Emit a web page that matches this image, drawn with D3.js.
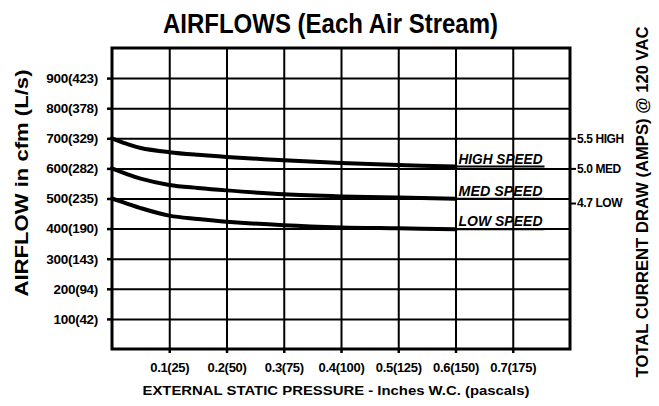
<!DOCTYPE html>
<html>
<head>
	<title>Airflows (each air stream)</title>
	<meta charset="utf-8" />
	<script src="https://d3js.org/d3.v7.min.js"></script>
<style>
	body { margin: 0; background: #fff; }
	svg { display: block; font-family: "Liberation Sans", Arial, sans-serif; }
	.grid path { stroke-width: 0; }
	.axis path { stroke-width: 0; }
	.axis text { fill: #000; font-weight: bold; }
</style>
</head>
<body>
<script>
// datos (cfm frente a presion estatica, in W.C.)
var pressure  = [0, 0.025, 0.05, 0.1, 0.15, 0.2, 0.3, 0.4, 0.5, 0.6];
var highSpeed = [700, 682, 668, 654, 645, 638, 627, 618, 611, 606];
var medSpeed  = [600, 582, 566, 545, 535, 527, 514, 507, 503, 499];
var lowSpeed  = [500, 484, 468, 443, 432, 423, 411, 404, 401, 398];
var speedNames = ["HIGH SPEED", "MED SPEED", "LOW SPEED"];

// etiquetas de los ejes
var yTicks = [100, 200, 300, 400, 500, 600, 700, 800, 900];
var yTickLabels = ["100(42)", "200(94)", "300(143)", "400(190)", "500(235)", "600(282)", "700(329)", "800(378)", "900(423)"];
var xTicks = [0.1, 0.2, 0.3, 0.4, 0.5, 0.6, 0.7];
var xTickLabels = ["0.1(25)", "0.2(50)", "0.3(75)", "0.4(100)", "0.5(125)", "0.6(150)", "0.7(175)"];
// consumo (amperios) en el eje derecho, situado a la altura de cada curva
var ampsAt = [700, 600, 485];
var ampsLabels = ["5.5 HIGH", "5.0 MED", "4.7 LOW"];

var svg = d3.select("body")
	.append("svg")
	.attr("width", 659)
	.attr("height", 406);

var margin = {top: 48, right: 89, bottom: 57, left: 112},
	width = +svg.attr("width") - margin.left - margin.right,
	height = +svg.attr("height") - margin.top - margin.bottom,
	g = svg.append("g").attr("transform", "translate(" + margin.left + "," + margin.top + ")");

var x = d3.scaleLinear().domain([0, 0.8]).range([0, width]);
var y = d3.scaleLinear().domain([0, 1000]).range([height, 0]);

// Titulo
svg.append("text")
	.attr("x", 330.5)
	.attr("y", 33)
	.attr("text-anchor", "middle")
	.attr("textLength", 335)
	.attr("lengthAdjust", "spacingAndGlyphs")
	.style("font-size", "27px")
	.style("font-weight", "bold")
	.text("AIRFLOWS (Each Air Stream)");

// lineas de la rejilla
g.append("g")
	.attr("class", "grid")
	.call(d3.axisLeft(y).tickValues(yTicks).tickSize(-width).tickFormat(""))
	.selectAll("line")
	.attr("stroke", "#000")
	.attr("stroke-width", 2);

g.append("g")
	.attr("class", "grid")
	.attr("transform", "translate(0," + height + ")")
	.call(d3.axisBottom(x).tickValues(xTicks).tickSize(-height).tickFormat(""))
	.selectAll("line")
	.attr("stroke", "#000")
	.attr("stroke-width", 2);

// marco
g.append("rect")
	.attr("width", width)
	.attr("height", height)
	.attr("fill", "none")
	.attr("stroke", "#000")
	.attr("stroke-width", 3);

// Eje Y
var yAxis = g.append("g")
	.attr("class", "axis")
	.call(d3.axisLeft(y)
		.tickValues(yTicks)
		.tickSize(5)
		.tickPadding(9)
		.tickFormat(function (d, i) { return yTickLabels[i]; }));
yAxis.selectAll("line").attr("stroke-width", 2.5);
yAxis.selectAll("text")
	.style("font-size", "13.5px")
	.style("letter-spacing", "-0.3px");

// Eje X
var xAxis = g.append("g")
	.attr("class", "axis")
	.attr("transform", "translate(0," + height + ")")
	.call(d3.axisBottom(x)
		.tickValues(xTicks)
		.tickSize(4)
		.tickPadding(10)
		.tickFormat(function (d, i) { return xTickLabels[i]; }));
xAxis.selectAll("line").attr("stroke-width", 2.5);
xAxis.selectAll("text")
	.style("font-size", "13px")
	.style("letter-spacing", "-0.3px");

// Eje derecho (amperios)
var aAxis = g.append("g")
	.attr("class", "axis")
	.attr("transform", "translate(" + width + ",0)")
	.call(d3.axisRight(y)
		.tickValues(ampsAt)
		.tickSize(6)
		.tickPadding(1)
		.tickFormat(function (d, i) { return ampsLabels[i]; }));
aAxis.selectAll("line").attr("stroke-width", 2);
aAxis.selectAll("text")
	.style("font-size", "12px")
	.style("letter-spacing", "-0.4px");

// titulos de los ejes
svg.append("text")
	.attr("transform", "translate(28,183) rotate(-90)")
	.attr("text-anchor", "middle")
	.attr("textLength", 227)
	.attr("lengthAdjust", "spacingAndGlyphs")
	.style("font-size", "18px")
	.style("font-weight", "bold")
	.text("AIRFLOW in cfm (L/s)");

svg.append("text")
	.attr("x", 336)
	.attr("y", 395)
	.attr("text-anchor", "middle")
	.attr("textLength", 387)
	.attr("lengthAdjust", "spacingAndGlyphs")
	.style("font-size", "13px")
	.style("font-weight", "bold")
	.text("EXTERNAL STATIC PRESSURE - Inches W.C. (pascals)");

svg.append("text")
	.attr("transform", "translate(648,202) rotate(-90)")
	.attr("text-anchor", "middle")
	.attr("textLength", 351)
	.attr("lengthAdjust", "spacingAndGlyphs")
	.style("font-size", "17px")
	.style("font-weight", "bold")
	.text("TOTAL CURRENT DRAW (AMPS) @ 120 VAC");

// Curvas
var series = [highSpeed, medSpeed, lowSpeed];
var line = d3.line()
	.x(function (d, i) { return x(pressure[i]); })
	.y(function (d) { return y(d); })
	.curve(d3.curveCatmullRom.alpha(0.5));

series.forEach(function (s, k) {
	g.append("path")
		.datum(s)
		.attr("fill", "none")
		.attr("stroke", "#000")
		.attr("stroke-width", 4)
		.attr("stroke-linecap", "round")
		.attr("d", line);

	var last = s[s.length - 1],
		x0 = x(pressure[pressure.length - 1]);

	g.append("text")
		.attr("x", x0 + 3)
		.attr("y", y(last) - 3)
		.attr("textLength", 84)
		.attr("lengthAdjust", "spacingAndGlyphs")
		.style("font-size", "14px")
		.style("font-style", "italic")
		.style("font-weight", "bold")
		.text(speedNames[k]);

	// subrayado que prolonga la curva
	g.append("line")
		.attr("x1", x0)
		.attr("x2", x0 + 3 + 86)
		.attr("y1", y(last))
		.attr("y2", y(last))
		.attr("stroke", "#000")
		.attr("stroke-width", 2);
});
</script>
</body>
</html>
